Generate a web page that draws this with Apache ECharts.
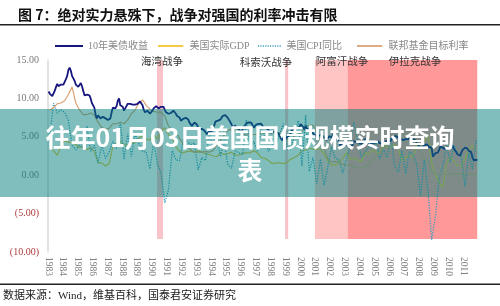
<!DOCTYPE html>
<html><head><meta charset="utf-8">
<script src="https://cdn.jsdelivr.net/npm/echarts@6/dist/echarts.min.js"></script>
<style>html,body{margin:0;padding:0;background:#fff}#c{width:500px;height:306px}</style>
</head><body><div id="c"></div>
<script>
const startYear = 1983;
const yearLabels = ['1983','1984','1985','1986','1987','1988','1989','1990','1991','1992','1993','1994','1995','1996','1997','1998','1999','2000','2001','2002','2003','2004','2005','2006','2007','2008','2009','2010','2011'];
const yTickValues = [-10, -5, 0, 5, 10, 15];
const yTickLabels = ['(10.00)', '(5.00)', '0.00', '5.00', '10.00', '15.00'];
const seriesNames = ['10年美债收益', '美国实际GDP', '美国CPI同比', '联邦基金目标利率'];

// monthly, 1983-01 .. 2011-12
const tenYearYield = [
10.9,10.6,10.5,10.3,10.5,11.0,11.5,11.9,11.6,11.6,11.8,11.9,
11.8,12.0,12.5,12.9,13.7,14.0,13.6,12.9,12.6,12.3,11.8,11.6,
11.5,11.7,12.0,11.6,11.0,10.4,10.5,10.5,10.6,10.4,10.0,9.4,
9.3,8.8,7.9,7.4,7.8,7.9,7.4,7.3,7.6,7.6,7.4,7.3,
7.2,7.4,7.4,8.2,8.8,8.6,8.7,9.0,9.7,10.0,9.1,9.2,
8.9,8.4,8.6,9.0,9.3,9.1,9.3,9.5,9.2,9.0,9.2,9.3,
9.3,9.4,9.6,9.4,9.1,8.5,8.2,8.3,8.4,8.2,8.0,8.0,
8.4,8.7,8.8,9.0,9.0,8.7,8.6,8.9,9.1,8.9,8.5,8.2,
8.2,8.0,8.2,8.1,8.2,8.4,8.4,8.0,7.7,7.6,7.5,7.1,
7.03,7.34,7.54,7.48,7.39,7.26,6.84,6.59,6.42,6.59,6.87,6.77,
6.60,6.26,5.98,5.97,6.04,5.96,5.81,5.68,5.36,5.33,5.72,5.77,
5.75,5.97,6.48,6.97,7.18,7.10,7.30,7.24,7.46,7.74,7.96,7.81,
7.78,7.47,7.20,7.06,6.63,6.17,6.28,6.49,6.20,6.04,5.93,5.71,
5.65,5.81,6.27,6.51,6.74,6.91,6.87,6.64,6.83,6.53,6.20,6.30,
6.58,6.42,6.69,6.89,6.71,6.49,6.22,6.30,6.21,6.03,5.88,5.81,
5.54,5.57,5.65,5.64,5.65,5.50,5.46,5.34,4.81,4.53,4.83,4.65,
4.72,5.00,5.23,5.18,5.54,5.90,5.79,5.94,5.92,6.11,6.03,6.28,
6.66,6.52,6.26,5.99,6.44,6.10,6.05,5.83,5.80,5.74,5.72,5.24,
5.16,5.10,4.89,5.14,5.39,5.28,5.24,4.97,4.73,4.57,4.65,5.09,
5.04,4.91,5.28,5.21,5.16,4.93,4.65,4.26,3.87,3.94,4.05,4.03,
4.05,3.90,3.81,3.96,3.57,3.33,3.98,4.45,4.27,4.29,4.30,4.27,
4.15,4.08,3.83,4.35,4.72,4.73,4.50,4.28,4.13,4.10,4.19,4.23,
4.22,4.17,4.50,4.34,4.14,4.00,4.18,4.26,4.20,4.46,4.54,4.47,
4.42,4.57,4.72,4.99,5.11,5.11,5.09,4.88,4.72,4.73,4.60,4.56,
4.76,4.72,4.56,4.69,4.75,5.10,5.00,4.67,4.52,4.53,4.15,4.10,
3.74,3.74,3.51,3.68,3.88,4.10,4.01,3.89,3.69,3.81,3.53,2.42,
2.52,2.87,2.82,2.93,3.29,3.72,3.56,3.59,3.40,3.39,3.40,3.59,
3.73,3.69,3.73,3.85,3.42,3.20,3.01,2.70,2.65,2.54,2.76,3.29,
3.39,3.58,3.41,3.46,3.17,3.00,3.00,2.30,1.98,2.15,2.01,1.98];

// quarterly, 1983Q1 .. 2011Q4
const realGDP = [
3.6,3.2,2.6,3.8, 4.5,4.3,4.2,4.0, 3.6,3.7,3.3,3.6, 3.1,1.6,1.6,1.2,
1.5,3.8,4.2,4.4, 4.0,3.9,4.1,4.3, 4.8,5.2,4.7,4.6, 5.3,4.7,5.6,6.2,
5.3,4.8,3.7,3.1, 2.9,3.1,3.1,3.0, 3.2,3.0,2.8,2.7, 2.5,2.4,2.9,2.7,
2.8,3.0,2.6,2.6, 2.8,2.9,2.9,3.2, 2.9,2.3,2.2,1.9, 1.5,1.6,1.6,1.5,
1.7,2.1,2.3,2.6, 3.2,3.3,3.5,3.4, 3.4,3.4,2.7,1.9, 1.3,1.3,1.6,2.2,
2.9,2.1,2.2,2.0, 1.8,2.9,2.7,3.3, 3.0,2.9,3.8,3.7, 3.6,4.0,3.4,1.9,
2.4,2.6,2.4,4.0, 4.1,4.4,5.3,1.6, 0.0,-1.0,-1.6,1.5, 2.4,1.8,1.2,1.2,
2.1,3.4,3.8,3.3];
const cpiYoY = [
5.3,9.4,8.1,8.5, 8.2,7.1,3.9,3.3, 3.9,3.6,6.4,3.1, 3.9,1.6,3.9,2.2,
3.0,4.4,3.5,7.0, 2.1,5.4,2.4,5.4, 4.1,3.1,3.0,0.8, 4.4,1.5,0.3,-3.6,
-1.9,3.2,2.0,1.9, 4.7,4.4,4.0,4.2, 0.7,2.3,1.9,5.4, 3.9,5.6,2.4,4.5,
1.4,0.9,3.2,2.9, 2.7,7.2,3.6,4.4, 3.1,6.2,5.2,3.1, 3.9,3.9,5.3,6.7,
3.4,3.4,5.2,7.1, 1.2,7.8,0.5,2.3, -1.1,2.1,-1.3,1.1, 3.7,2.2,2.0,0.3,
2.1,3.8,6.9,4.8, 2.3,3.0,3.7,3.5, 4.3,2.1,3.4,2.3, 4.9,1.2,0.4,3.2,
0.2,3.1,2.7,1.4, -2.7,2.0,-1.9,-8.4, -5.4,-0.5,1.3,3.9, 1.7,3.9,2.7,2.5,
-1.5,2.9,0.8,4.6];
const fedFundsTarget = [
8.5,8.8,9.3,9.4, 9.7,10.5,11.5,9.4, 8.5,7.9,7.9,8.1, 7.8,6.9,6.2,6.0,
6.1,6.7,6.7,6.9, 6.7,7.2,8.0,8.5, 9.4,9.8,9.1,8.6, 8.3,8.2,8.2,7.7,
6.4,5.9,5.6,4.8, 4.0,3.8,3.3,3.0, 3.0,3.0,3.1,3.0, 3.2,3.9,4.5,5.2,
5.8,6.0,5.8,5.7, 5.4,5.2,5.3,5.3, 5.3,5.5,5.5,5.5, 5.5,5.5,5.5,4.9,
4.7,4.8,5.1,5.3, 5.7,6.3,6.5,6.5, 5.6,4.3,3.5,2.1, 1.7,1.8,1.7,1.4,
1.3,1.3,1.0,1.0, 1.0,1.0,1.4,2.0, 2.5,2.9,3.5,4.0, 4.5,4.9,5.3,5.3,
5.3,5.3,5.1,4.5, 3.2,2.1,1.9,0.5, 0.2,0.2,0.2,0.1, 0.1,0.2,0.2,0.2,
0.2,0.1,0.1,0.1];

// war periods (years) and shading span (value axis)
const warNames = ['海湾战争', '科索沃战争', '阿富汗战争', '伊拉克战争'];
const warStart = [1990.35, 1998.99, 2001.0, 2003.2];
const warEnd = [1990.76, 1999.2, 2003.2, 2011.95];
const shadeTop = 15.3;
const shadeBottom = -8.3;

const monthly = a => a.map((v, i) => [startYear + i / 12 + 1 / 24, v]);
const quarterly = a => a.map((v, i) => [startYear + i / 4 + 0.125, v]);

const warColors = ['#f8c3c9', '#f8c3c9', '#ffc5c5', '#ff9999'];
const warLabelPos = [[162, 61], [266, 62], [342, 61], [415, 61]];

const serifCJK = '"Liberation Serif", "Noto Sans CJK SC", serif';
const cjk = '"Noto Sans CJK SC", sans-serif';

let dots = '';
for (let k = 0; k < 10; k++) dots += 'M' + (k * 3) + ',0h1.5v2h-1.5z';
const solidIcon = 'path://M0,0h28v2h-28z';
const legendIcons = [solidIcon, solidIcon, 'path://' + dots, solidIcon];
const legendIconH = [2.2, 1.8, 1.6, 1.8];

const chart = echarts.init(document.getElementById('c'), null, {renderer: 'canvas'});
const lineColors = ['#16167e', '#f0c434', '#3f9fbf', '#dba274'];
const legendLeft = [50, 153, 253, 352];

const option = {
  animation: false,
  backgroundColor: '#fff',
  grid: {left: 48, right: 22, top: 60, bottom: 54, containLabel: false},
  legend: seriesNames.map((n, i) => ({
    data: [{name: n, icon: legendIcons[i]}], left: legendLeft[i], top: 36,
    itemWidth: i === 2 ? 24 : 28, itemHeight: legendIconH[i], itemGap: 0,
    textStyle: {color: '#888', fontSize: 10, fontFamily: serifCJK}
  })),
  xAxis: {
    type: 'value', min: startYear, max: 2012, interval: 1,
    axisLine: {show: false}, axisTick: {show: false}, splitLine: {show: false},
    axisLabel: {
      rotate: -90, margin: 5, fontSize: 9.5, color: '#808080', fontFamily: '"Liberation Serif", serif',
      formatter: v => yearLabels[Math.round(v) - startYear] || ''
    }
  },
  yAxis: {
    type: 'value', min: -10, max: 15, interval: 5,
    axisLine: {show: true, lineStyle: {color: '#d9d9d9', width: 1.5}},
    axisTick: {show: false}, splitLine: {show: false},
    axisLabel: {
      margin: 9, fontSize: 10, fontFamily: '"Liberation Serif", serif',
      color: v => (v < 0 ? '#b03a3a' : '#7a7a7a'),
      formatter: v => yTickLabels[yTickValues.indexOf(v)] || ''
    }
  },
  series: [
    {
      type: 'line', name: 'shade', data: [], z: 1, silent: true,
      markArea: {
        silent: true,
        data: warNames.map((n, i) => [
          {xAxis: warStart[i], yAxis: shadeTop, itemStyle: {color: warColors[i], opacity: 1}},
          {xAxis: warEnd[i], yAxis: shadeBottom}
        ])
      }
    },
    {type: 'line', name: seriesNames[1], data: quarterly(realGDP), symbol: 'none', z: 3,
      lineStyle: {color: lineColors[1], width: 1.2}, itemStyle: {color: lineColors[1]}},
    {type: 'line', name: seriesNames[2], data: quarterly(cpiYoY), symbol: 'none', z: 3,
      lineStyle: {color: lineColors[2], width: 1.3, type: 'dotted'}, itemStyle: {color: lineColors[2]}},
    {type: 'line', name: seriesNames[3], data: quarterly(fedFundsTarget), symbol: 'none', z: 3,
      lineStyle: {color: lineColors[3], width: 1.2}, itemStyle: {color: lineColors[3]}},
    {type: 'line', name: seriesNames[0], data: monthly(tenYearYield), symbol: 'none', z: 4,
      lineStyle: {color: lineColors[0], width: 1.8}, itemStyle: {color: lineColors[0]}}
  ],
  graphic: [
    {type: 'text', x: 18, y: 15, z: 50, style: {text: '图 7：绝对实力悬殊下，战争对强国的利率冲击有限', font: 'bold 14px ' + cjk, fill: '#111', textVerticalAlign: 'middle'}},
    {type: 'rect', shape: {x: 0, y: 24, width: 500, height: 1.6}, z: 50, style: {fill: '#222'}},
    ...warNames.map((n, i) => ({type: 'text', x: warLabelPos[i][0], y: warLabelPos[i][1], z: 50,
      style: {text: n, font: '10.5px ' + cjk, fill: '#333', textAlign: 'center', textVerticalAlign: 'middle'}})),
    {type: 'rect', shape: {x: 0, y: 283.5, width: 500, height: 1.6}, z: 50, style: {fill: '#222'}},
    {type: 'text', x: 3, y: 296, z: 50, style: {text: '数据来源：Wind，维基百科，国泰君安证券研究', font: '11px ' + serifCJK, fill: '#222', textVerticalAlign: 'middle'}},
    {type: 'rect', shape: {x: 0, y: 109, width: 500, height: 88}, z: 100, style: {fill: 'rgba(0,126,122,0.5)'}},
    {type: 'text', x: 250, y: 137, z: 101, style: {text: '往年01月03日美国国债规模实时查询', font: 'bold 25px ' + cjk, fill: '#fff', textAlign: 'center', textVerticalAlign: 'middle'}},
    {type: 'text', x: 250, y: 170, z: 101, style: {text: '表', font: 'bold 25px ' + cjk, fill: '#fff', textAlign: 'center', textVerticalAlign: 'middle'}}
  ]
};
chart.setOption(option);
</script>
</body></html>
